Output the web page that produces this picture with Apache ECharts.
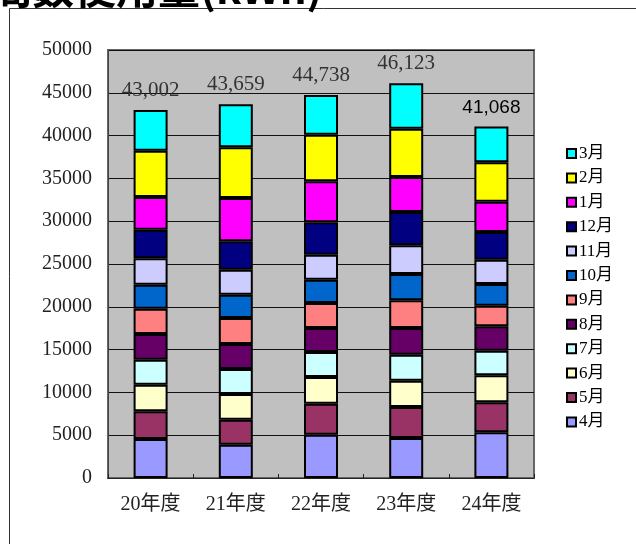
<!DOCTYPE html>
<html>
<head>
<meta charset="utf-8">
<script src="https://cdn.jsdelivr.net/npm/echarts@6/dist/echarts.min.js"></script>
<style>
  html, body { margin: 0; padding: 0; background: #fff; }
  #chart { width: 636px; height: 544px; }
</style>
</head>
<body>
<div id="chart"></div>
<script>
// 年度ごとの月別使用量 (kWh)
const categories = ['20年度', '21年度', '22年度', '23年度', '24年度'];
const months = ['4月', '5月', '6月', '7月', '8月', '9月', '10月', '11月', '12月', '1月', '2月', '3月'];
const apr = [4556, 3894, 5062, 4673, 5335];
const may = [3232, 2921, 3622, 3621, 3504];
const jun = [3115, 2998, 3115, 3076, 3155];
const jul = [2921, 2920, 2920, 3038, 2881];
const aug = [2998, 2921, 2804, 3115, 2843];
const sep = [2960, 3037, 2921, 3232, 2414];
const oct = [2803, 2726, 2725, 3076, 2531];
const nov = [3076, 2921, 2921, 3349, 2843];
const dec = [3349, 3309, 3777, 3894, 3232];
const jan = [3816, 5063, 4790, 4089, 3543];
const feb = [5414, 5918, 5451, 5646, 4595];
const mar = [4762, 5031, 4630, 5314, 4192];
const yTicks = [0, 5000, 10000, 15000, 20000, 25000, 30000, 35000, 40000, 45000, 50000];

const monthData = [apr, may, jun, jul, aug, sep, oct, nov, dec, jan, feb, mar];
const colors = ['#9999FF', '#993366', '#FFFFCC', '#CCFFFF', '#660066', '#FF8080',
                '#0066CC', '#CCCCFF', '#000080', '#FF00FF', '#FFFF00', '#00FFFF'];

const serif = '"Liberation Serif", "Noto Sans CJK JP", serif';
const totals = categories.map((c, i) => monthData.reduce((s, arr) => s + arr[i], 0));

const series = months.map((m, k) => {
  const s = {
    name: m,
    type: 'bar',
    stack: 'total',
    barWidth: 34,
    itemStyle: { color: colors[k], borderColor: '#000', borderWidth: 2 },
    data: monthData[k]
  };
  if (k === months.length - 1) {
    // 一番上の系列に合計値ラベル
    s.data = monthData[k].map((v, i) => i === 4 ? {
      value: v,
      label: { fontFamily: '"Liberation Sans", Arial, sans-serif', color: '#000', fontSize: 19 }
    } : v);
    s.label = {
      show: true,
      position: 'top',
      distance: 9,
      fontFamily: serif,
      fontSize: 21,
      color: '#333',
      formatter: p => totals[p.dataIndex].toLocaleString('en-US')
    };
  }
  return s;
});

const chart = echarts.init(document.getElementById('chart'));
chart.setOption({
  animation: false,
  graphic: [
    { type: 'rect', shape: { x: 9.5, y: 8.5, width: 700, height: 600 },
      style: { fill: 'none', stroke: '#333', lineWidth: 1 }, z: -1 },
    { type: 'text', left: -10, top: -33,
      style: { text: '間数使用量(kWh)', font: 'bold 42px "Noto Sans CJK JP", sans-serif', fill: '#000' } }
  ],
  grid: {
    left: 108, right: 102, top: 50, bottom: 66,
    show: true, backgroundColor: '#C0C0C0', borderColor: '#666', borderWidth: 2
  },
  legend: {
    orient: 'vertical',
    left: 561,
    top: 140,
    itemWidth: 9,
    itemHeight: 9,
    itemGap: 7.4,
    icon: 'rect',
    data: months.slice().reverse(),
    textStyle: { fontFamily: serif, fontSize: 17, color: '#000', padding: [0, 0, 0, -2] }
  },
  xAxis: {
    type: 'category',
    data: categories,
    axisLine: { lineStyle: { color: '#222', width: 1 } },
    axisTick: { show: true, inside: true, length: 4, lineStyle: { color: '#222' } },
    axisLabel: { fontFamily: serif, fontSize: 20, color: '#222', margin: 17 }
  },
  yAxis: {
    type: 'value',
    min: yTicks[0],
    max: yTicks[yTicks.length - 1],
    interval: yTicks[1] - yTicks[0],
    axisLine: { show: true, lineStyle: { color: '#444', width: 1 } },
    axisTick: { show: false },
    splitLine: { lineStyle: { color: '#111', width: 1 } },
    axisLabel: { fontFamily: serif, fontSize: 20, color: '#222', margin: 16, formatter: v => String(v) }
  },
  series: series
});
</script>
</body>
</html>
